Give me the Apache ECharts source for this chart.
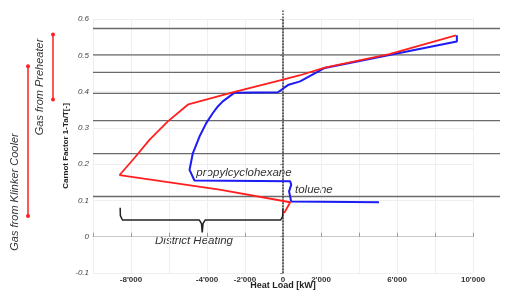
<!DOCTYPE html>
<html>
<head>
<meta charset="utf-8">
<script src="https://cdn.jsdelivr.net/npm/echarts@6/dist/echarts.min.js"></script>
<style>
  html, body { margin: 0; padding: 0; background: #fff; }
  #chart { width: 508px; height: 291px; }
</style>
</head>
<body>
<div id="chart"></div>
<script>
// hot side: gas from preheater + klinker cooler, then district heating
var gasCurve = [
    [9100, 0.555], [5600, 0.503], [2200, 0.466], [900, 0.445], [0, 0.433],
    [-2550, 0.399], [-4980, 0.365], [-6060, 0.318], [-7030, 0.267],
    [-7820, 0.217], [-8600, 0.170], [-3340, 0.130], [380, 0.095], [60, 0.065]
];

// cold side: ORC working fluids (propylcyclohexane / toluene)
var orcCurve = [
    [9150, 0.555], [9150, 0.538], [5600, 0.501], [2200, 0.465], [900, 0.428],
    [300, 0.419], [50, 0.410], [-270, 0.398], [-2550, 0.397], [-3170, 0.373],
    [-3430, 0.359], [-3690, 0.341], [-4040, 0.313], [-4395, 0.276],
    [-4747, 0.230], [-4920, 0.184], [-4660, 0.155], [380, 0.153], [430, 0.143],
    [320, 0.125], [430, 0.097], [5050, 0.095]
];

// isotherms expressed as carnot factor
var tempNames = ['400°C', '300°C', '250°C', '200°C', '150°C', '100°C', '50°C'];
var tempCarnot = [0.574, 0.501, 0.453, 0.395, 0.320, 0.229, 0.111];

// carnot ranges of the two gas sources (left margin bars)
var preheaterRange = [0.557, 0.378];
var klinkerRange = [0.470, 0.057];

// district heating brace
var braceShape = [
    [-8570, 0.080], [-8560, 0.058], [-8450, 0.046], [-4400, 0.046],
    [-4290, 0.036], [-4250, 0.012], [-4210, 0.036], [-4100, 0.046],
    [-120, 0.046], [-20, 0.056], [0, 0.078]
];

var xTickLabels = {
    '-8000': "-8'000", '-4000': "-4'000", '-2000': "-2'000",
    '0': '0', '2000': "2'000", '6000': "6'000", '10000': "10'000"
};

var FONT = 'Liberation Sans';
var RED = '#ff1f1f';
var BLUE = '#1c1cf5';

var series = [];

tempCarnot.forEach(function(v, i) {
    series.push({
        type: 'line',
        xAxisIndex: 1,
        yAxisIndex: 1,
        symbol: 'none',
        silent: true,
        z: 1,
        lineStyle: { color: '#6a6a6a', width: 1.4 },
        label: {
            show: true,
            position: 'top',
            distance: 1,
            offset: [-5, 0],
            formatter: function() { return tempNames[i]; },
            fontFamily: FONT,
            fontSize: 8,
            fontWeight: 'bold',
            color: '#222'
        },
        data: [
            { value: [0, v], label: { show: false } },
            [1, v]
        ]
    });
});

series.push({
    type: 'line',
    xAxisIndex: 3,
    yAxisIndex: 3,
    symbol: 'none',
    silent: true,
    z: 2,
    lineStyle: { color: '#444', width: 1.5, type: 'dotted' },
    data: [[0, 0], [0, 1]]
});

series.push({
    name: 'ORC',
    type: 'line',
    symbol: 'none',
    z: 3,
    lineStyle: { color: BLUE, width: 2 },
    data: orcCurve
}, {
    name: 'Gas',
    type: 'line',
    symbol: 'none',
    z: 4,
    lineStyle: { color: RED, width: 1.8 },
    data: gasCurve
}, {
    name: 'brace',
    type: 'line',
    symbol: 'none',
    z: 3,
    lineStyle: { color: '#222', width: 1.5 },
    data: braceShape
});

// left margin bars, x in grid-pixels
[[28, klinkerRange], [53, preheaterRange]].forEach(function(item) {
    series.push({
        type: 'line',
        xAxisIndex: 2,
        yAxisIndex: 2,
        symbol: 'circle',
        symbolSize: 4,
        silent: true,
        itemStyle: { color: RED },
        lineStyle: { color: RED, width: 1.5 },
        data: [[item[0], item[1][0]], [item[0], item[1][1]]]
    });
});

var hiddenAxis = { show: false };

option = {
    backgroundColor: '#fff',
    animation: false,
    grid: [
        { left: 93, right: 35, top: 19, bottom: 18, outerBoundsMode: 'none', containLabel: false },
        { left: 93, right: 8, top: 19, bottom: 18, outerBoundsMode: 'none', containLabel: false },
        { left: 0, width: 93, top: 19, bottom: 18, outerBoundsMode: 'none', containLabel: false },
        { left: 93, right: 35, top: 10, bottom: 18, outerBoundsMode: 'none', containLabel: false }
    ],
    xAxis: [{
        gridIndex: 0,
        type: 'value',
        min: -10000,
        max: 10000,
        interval: 2000,
        name: 'Heat Load [kW]',
        nameLocation: 'middle',
        nameGap: 8,
        nameMoveOverlap: false,
        nameTextStyle: { fontFamily: FONT, fontSize: 9, fontWeight: 'bold', color: '#222' },
        axisLine: { show: true, lineStyle: { color: '#c8c8c8', width: 1 } },
        axisTick: { show: true, inside: true, length: 4, lineStyle: { color: '#999' } },
        axisLabel: {
            margin: 3,
            fontFamily: FONT,
            fontSize: 8,
            fontWeight: 'bold',
            color: '#333',
            formatter: function(v) { return xTickLabels[String(v)] || ''; }
        },
        splitLine: { show: true, lineStyle: { color: '#efefef' } }
    }, Object.assign({ gridIndex: 1, type: 'value', min: 0, max: 1 }, hiddenAxis),
       Object.assign({ gridIndex: 2, type: 'value', min: 0, max: 93 }, hiddenAxis),
       Object.assign({ gridIndex: 3, type: 'value', min: -10000, max: 10000 }, hiddenAxis)],
    yAxis: [{
        gridIndex: 0,
        type: 'value',
        min: -0.1,
        max: 0.6,
        interval: 0.1,
        name: 'Carnot Factor 1-Ta/T[-]',
        nameLocation: 'middle',
        nameGap: 23,
        nameMoveOverlap: false,
        nameTextStyle: { fontFamily: FONT, fontSize: 8, fontWeight: 'bold', color: '#222' },
        axisLine: { show: true, lineStyle: { color: '#b0b0b0', width: 2 } },
        axisTick: { show: true, length: 3, lineStyle: { color: '#999' } },
        axisLabel: {
            margin: 4,
            fontFamily: FONT,
            fontSize: 8,
            fontStyle: 'italic',
            color: '#444'
        },
        splitLine: { show: true, lineStyle: { color: '#efefef' } }
    }, Object.assign({ gridIndex: 1, type: 'value', min: -0.1, max: 0.6 }, hiddenAxis),
       Object.assign({ gridIndex: 2, type: 'value', min: -0.1, max: 0.6 }, hiddenAxis),
       Object.assign({ gridIndex: 3, type: 'value', min: 0, max: 1 }, hiddenAxis)],
    graphic: [{
        type: 'text', x: 40, y: 87, rotation: Math.PI / 2,
        style: { text: 'Gas from Preheater', font: 'italic 11px ' + FONT, fill: '#333', textAlign: 'center', textVerticalAlign: 'middle' }
    }, {
        type: 'text', x: 15, y: 192, rotation: Math.PI / 2,
        style: { text: 'Gas from Klinker Cooler', font: 'italic 11px ' + FONT, fill: '#333', textAlign: 'center', textVerticalAlign: 'middle' }
    }, {
        type: 'text', x: 244, y: 173,
        style: { text: 'propylcyclohexane', font: 'italic 11.5px ' + FONT, fill: '#333', textAlign: 'center', textVerticalAlign: 'middle' }
    }, {
        type: 'text', x: 295, y: 190,
        style: { text: 'toluene', font: 'italic 11.5px ' + FONT, fill: '#333', textAlign: 'left', textVerticalAlign: 'middle' }
    }, {
        type: 'text', x: 194, y: 241,
        style: { text: 'District Heating', font: 'italic 11.5px ' + FONT, fill: '#333', textAlign: 'center', textVerticalAlign: 'middle' }
    }],
    series: series
};

var myecharts = echarts.init(document.getElementById('chart'));
myecharts.setOption(option);
</script>
</body>
</html>
